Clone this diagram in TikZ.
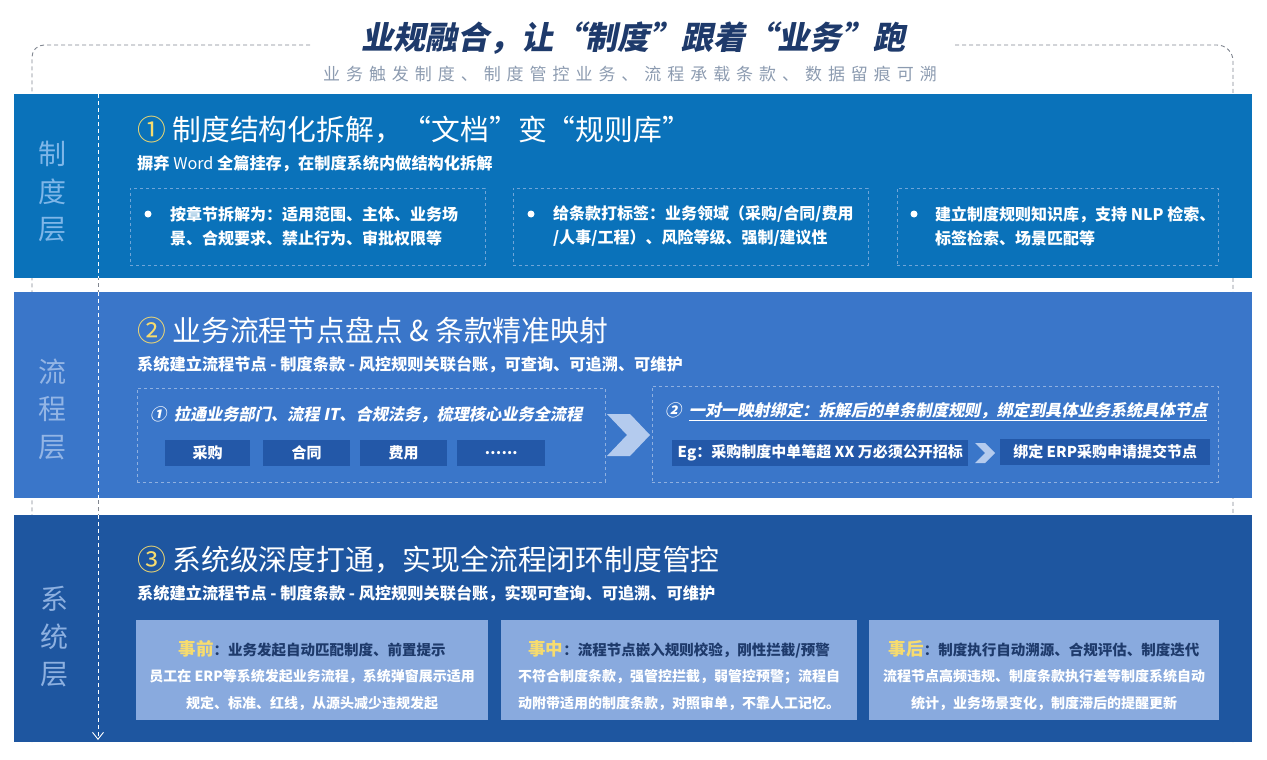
\documentclass[tikz,border=0pt]{standalone}
\usepackage{fontspec}
\setmainfont{Noto Sans CJK SC}
\newfontfamily\slantfont{Noto Sans CJK SC}[FakeSlant=0.2]
\newfontfamily\widefont{Noto Sans CJK SC}[LetterSpace=35]
\usetikzlibrary{arrows.meta}

\definecolor{bandA}{RGB}{10,114,186}
\definecolor{bandB}{RGB}{58,118,201}
\definecolor{bandC}{RGB}{30,86,160}
\definecolor{labA}{RGB}{126,182,232}
\definecolor{labB}{RGB}{147,181,229}
\definecolor{labC}{RGB}{141,176,224}
\definecolor{chipblue}{RGB}{35,88,168}
\definecolor{stagefill}{RGB}{137,170,222}
\definecolor{gold}{RGB}{247,220,111}
\definecolor{navy}{RGB}{30,58,107}
\definecolor{greytxt}{RGB}{140,155,176}
\definecolor{rimgrey}{RGB}{128,134,144}
\definecolor{dashA}{RGB}{111,165,216}
\definecolor{dashB}{RGB}{143,176,224}
\definecolor{chevfill}{RGB}{180,203,238}

\begin{document}
\begin{tikzpicture}[x=1pt, y=-1pt,
  layerbg/.style={fill=#1, inner sep=0pt, outer sep=0pt, anchor=north west, minimum width=1238pt},
  layername/.style={text=#1, inner sep=0pt, align=center, font=\fontsize{28}{37.5}\selectfont},
  headline/.style={anchor=west, inner sep=0pt, text=white, font=\fontsize{28.8}{30}\selectfont},
  subline/.style={anchor=west, inner sep=0pt, text=white, font=\bfseries\fontsize{16.2}{18}\selectfont},
  rulebox/.style={draw=dashA, dashed, anchor=north west, inner sep=0pt, minimum height=77pt},
  ruletext/.style={anchor=west, inner sep=0pt, text=white, align=left, font=\bfseries\fontsize{16}{24}\selectfont},
  dot/.style={circle, fill=white, inner sep=0pt, minimum size=7pt},
  mapbox/.style={draw=dashB, dashed, anchor=north west, inner sep=0pt},
  maptext/.style={anchor=west, inner sep=0pt, text=white, font=\slantfont\bfseries\fontsize{16.2}{18}\selectfont},
  chip/.style={fill=chipblue, anchor=north west, inner sep=0pt, minimum height=26pt, text=white, font=\bfseries\fontsize{15}{18}\selectfont},
  stagebox/.style={fill=stagefill, anchor=north west, inner sep=0pt, minimum height=100pt},
  stagetext/.style={inner sep=0pt, align=center, text=white, font=\bfseries\fontsize{14}{26.5}\selectfont},
  rim/.style={draw=rimgrey, dash pattern=on 4pt off 3pt, line width=0.9pt},
]
\useasboundingbox (0,0) rectangle (1267,760);

% title
\node[inner sep=0pt, text=navy, font=\slantfont\bfseries\fontsize{32}{34}\selectfont] (ttl) at (633,38) {业规融合，让“制度”跟着“业务”跑};
\node[inner sep=0pt, text=greytxt, font=\widefont\fontsize{17}{19}\selectfont] (ttlsub) at (630,74) {业务触发制度、制度管控业务、流程承载条款、数据留痕可溯};
\draw[rim, rounded corners=12pt] (310,45) -| (32,742);
\draw[rim, rounded corners=16pt] (955,45) -| (1233,742);

% rail
\coordinate (railtop) at (98,94);
\coordinate (railend) at (98,740);
\draw[rim] (railtop) -- (railend);

% layer 1
\node[layerbg=bandA, minimum height=184pt] (lyr1) at (14,94) {};
\node[layername=labA] (lab1) at (52,192) {制\\度\\层};
\node[headline] (hd1) at (137,130) {\textcolor{gold}{①} 制度结构化拆解，“文档”变“规则库”};
\node[subline] (sub1) at (137,164) {摒弃 \mdseries Word \bfseries 全篇挂存，在制度系统内做结构化拆解};
\node[rulebox, minimum width=355pt] (rule1) at (130,188) {};
\node[rulebox, minimum width=355pt] (rule2) at (513,188) {};
\node[rulebox, minimum width=321pt] (rule3) at (897,188) {};
\node[dot] (dot1) at (148,214) {};
\node[dot] (dot2) at (531,214) {};
\node[dot] (dot3) at (914,214) {};
\node[ruletext] (txt1) at (170,226) {按章节拆解为：适用范围、主体、业务场\\景、合规要求、禁止行为、审批权限等};
\node[ruletext] (txt2) at (553,226) {给条款打标签：业务领域（采购/合同/费用\\/人事/工程）、风险等级、强制/建议性};
\node[ruletext] (txt3) at (935,226) {建立制度规则知识库，支持 NLP 检索、\\标签检索、场景匹配等};

% layer 2
\node[layerbg=bandB, minimum height=206pt] (lyr2) at (14,292) {};
\node[layername=labB] (lab2) at (52,409) {流\\程\\层};
\node[headline] (hd2) at (137,330) {\textcolor{gold}{②} 业务流程节点盘点 \& 条款精准映射};
\node[subline] (sub2) at (137,365) {系统建立流程节点 - 制度条款 - 风控规则关联台账，可查询、可追溯、可维护};
\node[mapbox, minimum width=468pt, minimum height=94pt] (map1) at (137,388) {};
\node[maptext] (maptxt1) at (150,415) {①\ \ 拉通业务部门、流程 IT、合规法务，梳理核心业务全流程};
\node[chip, minimum width=85pt] (chipA) at (165,440) {采购};
\node[chip, minimum width=87pt] (chipB) at (263,440) {合同};
\node[chip, minimum width=87pt] (chipC) at (360,440) {费用};
\node[chip, minimum width=88pt] (chipD) at (457,440) {.…..};
\fill[chevfill] (607,414) -- (630,414) -- (650,435) -- (630,456) -- (607,456) -- (627,435) -- cycle;
\node[mapbox, minimum width=566pt, minimum height=96pt] (map2) at (652,386) {};
\node[maptext] (maptxt2) at (665,412) {②\ \ \underline{一对一映射绑定：拆解后的单条制度规则，绑定到具体业务系统具体节点}};
\node[chip, minimum width=296pt] (chipEg) at (672,440) {Eg：采购制度中单笔超 XX 万必须公开招标};
\node[chip, minimum width=210pt] (chipErp) at (1000,439) {绑定 ERP采购申请提交节点};
\fill[chevfill] (975,443) -- (985,443) -- (995,453) -- (985,463) -- (975,463) -- (985,453) -- cycle;

% layer 3
\node[layerbg=bandC, minimum height=227pt] (lyr3) at (14,515) {};
\node[layername=labC] (lab3) at (54,637) {系\\统\\层};
\node[headline] (hd3) at (137,560) {\textcolor{gold}{③} 系统级深度打通，实现全流程闭环制度管控};
\node[subline] (sub3) at (137,594) {系统建立流程节点 - 制度条款 - 风控规则关联台账，实现可查询、可追溯、可维护};
\node[stagebox, minimum width=352pt] (pre) at (136,620) {};
\node[stagebox, minimum width=356pt] (mid) at (501,620) {};
\node[stagebox, minimum width=350pt] (post) at (869,620) {};
\node[stagetext] (pretxt) at ([yshift=-5pt]pre.center) {{\fontsize{14.5}{26.5}\selectfont\textcolor{gold}{\fontsize{17.5}{26.5}\selectfont 事前}\textcolor{navy}{：业务发起自动匹配制度、前置提示}}\\员工在 ERP等系统发起业务流程，系统弹窗展示适用\\规定、标准、红线，从源头减少违规发起};
\node[stagetext] (midtxt) at ([yshift=-5pt]mid.center) {{\fontsize{14.5}{26.5}\selectfont\textcolor{gold}{\fontsize{17.5}{26.5}\selectfont 事中}\textcolor{navy}{：流程节点嵌入规则校验，刚性拦截/预警}}\\不符合制度条款，强管控拦截，弱管控预警；流程自\\动附带适用的制度条款，对照审单，不靠人工记忆。};
\node[stagetext] (posttxt) at ([yshift=-5pt]post.center) {{\fontsize{14.5}{26.5}\selectfont\textcolor{gold}{\fontsize{17.5}{26.5}\selectfont 事后}\textcolor{navy}{：制度执行自动溯源、合规评估、制度迭代}}\\流程节点高频违规、制度条款执行差等制度系统自动\\统计，业务场景变化，制度滞后的提醒更新};

% rail over the layers
\draw[white, dash pattern=on 4pt off 3pt, line width=0.9pt] (lyr1.north -| railtop) -- (lyr1.south -| railtop);
\draw[white, dash pattern=on 4pt off 3pt, line width=0.9pt] (lyr2.north -| railtop) -- (lyr2.south -| railtop);
\draw[white, dash pattern=on 4pt off 3pt, line width=0.9pt, -{Straight Barb[length=7pt, width=11pt]}] (lyr3.north -| railtop) -- (railend);
\end{tikzpicture}
\end{document}
